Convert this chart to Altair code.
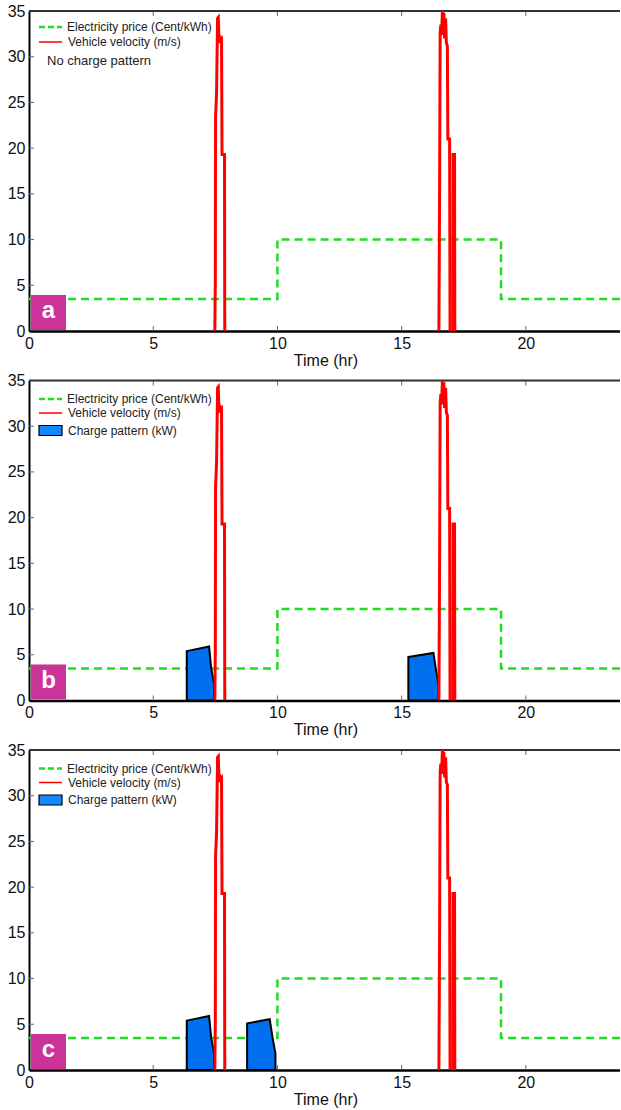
import altair as alt
import pandas as pd

FONT = "Liberation Sans"

# ---------------- data ----------------
# price line runs to the right edge of the (cropped) figure
price_time = [0, 10, 19, 23.87]
price_value = [3.5, 10, 3.5, 3.5]

vel_am_time = [7.48, 7.50, 7.51, 7.55, 7.59, 7.62, 7.65, 7.68, 7.72, 7.75, 7.77, 7.87, 7.88]
vel_am_value = [0, 5.5, 23.4, 26.0, 34.2, 34.3, 31.5, 32.3, 31.8, 31.9, 19.3, 19.3, 0]
vel_pm1_time = [16.50, 16.51, 16.53, 16.55, 16.58, 16.61, 16.64, 16.67, 16.70, 16.73,
                16.77, 16.80, 16.84, 16.86, 16.93, 16.95]
vel_pm1_value = [0, 5.4, 16.4, 32.6, 33.5, 32.4, 35.0, 33.0, 34.8, 32.0,
                 34.2, 31.5, 31.2, 21.0, 21.0, 0]
vel_pm2_time = [17.06, 17.07, 17.13, 17.14]
vel_pm2_value = [0, 19.3, 19.3, 0]

charge_am_time = [6.35, 7.25, 7.33, 7.45]
charge_am_value = [5.4, 5.9, 3.6, 1.8]
charge_pm_time = [15.27, 16.28, 16.38, 16.48]
charge_pm_value = [4.75, 5.2, 3.4, 1.8]
charge_mid_time = [8.78, 9.69, 9.80, 9.92]
charge_mid_value = [5.1, 5.55, 3.6, 1.8]

x_ticks = [0, 5, 10, 15, 20]
y_ticks = [0, 5, 10, 15, 20, 25, 30, 35]
panel_letters = ["a", "b", "c"]
legend_price = "Electricity price (Cent/kWh)"
legend_vel = "Vehicle velocity (m/s)"
legend_charge = "Charge pattern (kW)"
legend_none = "No charge pattern"

# ---------------- tables ----------------
price_df = pd.DataFrame({"t": price_time, "v": price_value})
vel_df = pd.concat([
    pd.DataFrame({"t": vel_am_time, "v": vel_am_value, "seg": "am"}),
    pd.DataFrame({"t": vel_pm1_time, "v": vel_pm1_value, "seg": "pm1"}),
    pd.DataFrame({"t": vel_pm2_time, "v": vel_pm2_value, "seg": "pm2"}),
], ignore_index=True)

W, H = 593, 320
BLUE = "#0070EE"
GREEN = "#1FDD1F"
RED = "#FF0000"

# visible part of the time axis (the figure is cropped just before 24 h)
xscale = alt.Scale(domain=[0, 23.87], nice=False, zero=False)
yscale = alt.Scale(domain=[0, 35], nice=False)
xaxis = alt.Axis(values=x_ticks, title="Time (hr)", ticks=False, labelFontSize=16,
                 labelPadding=4, titleFontSize=16, titleFontWeight="normal",
                 titlePadding=1, domainColor="black", domainWidth=2.5, grid=False,
                 labelFlush=False, labelColor="#111", titleColor="#111",
                 labelFont=FONT, titleFont=FONT)
yaxis = alt.Axis(values=y_ticks, title=None, ticks=False, labelFontSize=16,
                 labelPadding=4, domainColor="black", domainWidth=2, grid=False,
                 labelFlush=False, labelColor="#111", labelFont=FONT)

X = alt.X("t:Q", scale=xscale, axis=xaxis)
Y = alt.Y("v:Q", scale=yscale, axis=yaxis)

one = alt.Data(values=[{"k": 0}])


def hrule(x1, x2, y, color, width, dash=None):
    kw = dict(color=color, strokeWidth=width)
    if dash:
        kw["strokeDash"] = dash
    return alt.Chart(one).mark_rule(**kw).encode(
        x=alt.value(x1), x2=alt.value(x2), y=alt.value(y))


def label(x, y, s, size=12):
    return alt.Chart(one).mark_text(align="left", baseline="middle", fontSize=size,
                                    font=FONT, color="#222").encode(
        x=alt.value(x), y=alt.value(y), text=alt.value(s))


def panel(letter, blocks):
    layers = []
    # inward ticks + top frame line
    xt = pd.DataFrame({"t": x_ticks[1:]})
    yt = pd.DataFrame({"v": y_ticks[1:-1]})
    layers.append(alt.Chart(xt).mark_rule(color="#666", strokeWidth=1).encode(
        x=X, y=alt.value(H), y2=alt.value(H - 5)))
    layers.append(alt.Chart(xt).mark_rule(color="#666", strokeWidth=1).encode(
        x=X, y=alt.value(0), y2=alt.value(5)))
    layers.append(alt.Chart(yt).mark_rule(color="#666", strokeWidth=1).encode(
        y=Y, x=alt.value(0), x2=alt.value(5)))
    layers.append(alt.Chart(yt).mark_rule(color="#666", strokeWidth=1).encode(
        y=Y, x=alt.value(W - 2), x2=alt.value(W)))
    layers.append(hrule(0, W, 0, "#333", 2))

    layers.append(alt.Chart(price_df).mark_line(
        interpolate="step-after", color=GREEN, strokeWidth=2.5,
        strokeDash=[8, 5], clip=True).encode(x=X, y=Y))
    for tt, vv in blocks:
        layers.append(alt.Chart(pd.DataFrame({"t": tt, "v": vv})).mark_area(
            fill=BLUE, fillOpacity=1, stroke="black", strokeWidth=2,
            strokeJoin="miter").encode(x=X, y=Y))
    layers.append(alt.Chart(vel_df).mark_line(
        color=RED, strokeWidth=3, clip=True).encode(x=X, y=Y, detail="seg:N"))

    # legend
    if blocks:
        gy, ry = 18.5, 32.5
    else:
        gy, ry = 16, 31
    layers.append(hrule(10, 33, gy, GREEN, 2.5, [6, 3]))
    layers.append(label(38, gy, legend_price))
    layers.append(hrule(10, 33, ry, RED, 1.5))
    layers.append(label(39, ry, legend_vel))
    if blocks:
        layers.append(alt.Chart(one).mark_rect(
            fill="#1188FF", stroke="black", strokeWidth=1.2).encode(
            x=alt.value(10), x2=alt.value(33), y=alt.value(45), y2=alt.value(55)))
        layers.append(label(39, 50, legend_charge))
    else:
        layers.append(label(18, 49.5, legend_none, size=13))

    # panel letter
    layers.append(alt.Chart(one).mark_rect(color="#CC3399").encode(
        x=alt.value(2), x2=alt.value(37), y=alt.value(284), y2=alt.value(319)))
    layers.append(alt.Chart(one).mark_text(
        align="center", baseline="middle", fontSize=24, fontWeight="bold",
        font=FONT, color="white").encode(
        x=alt.value(19.5), y=alt.value(300), text=alt.value(letter)))

    return alt.layer(*layers).properties(width=W, height=H)


pa = panel(panel_letters[0], [])
pb = panel(panel_letters[1], [(charge_am_time, charge_am_value),
                              (charge_pm_time, charge_pm_value)])
pc = panel(panel_letters[2], [(charge_am_time, charge_am_value),
                              (charge_mid_time, charge_mid_value)])

chart = alt.vconcat(pa, pb, pc, spacing=49.5, bounds="flush").properties(
    padding={"left": 6, "top": 2, "right": -4, "bottom": 0}
).configure_view(strokeWidth=0).configure(font=FONT)

chart.save("out.html", embed_options={"renderer": "svg", "actions": False})
